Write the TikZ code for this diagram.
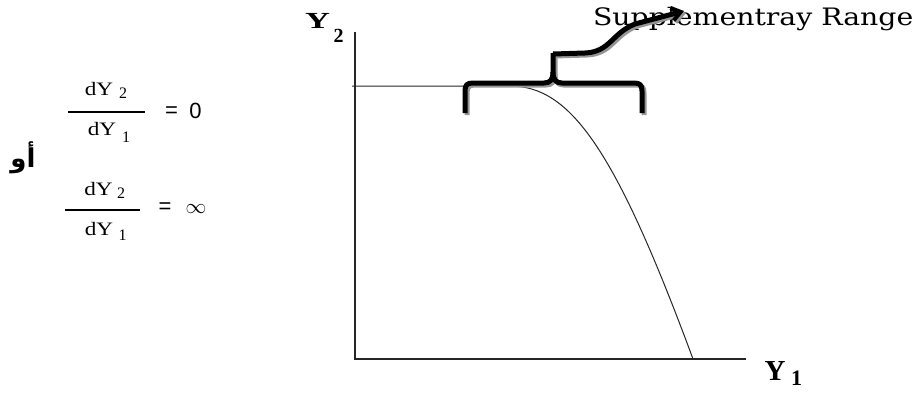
\documentclass[tikz,border=0pt]{standalone}
\usepackage{fontspec}
\setmainfont{Liberation Serif}
\newfontfamily\lblfont{DejaVu Serif}
\newfontfamily\sansf{Liberation Sans}
\newfontfamily\arabicfont[Script=Arabic]{DejaVu Sans}
\TeXXeTstate=1
\usetikzlibrary{arrows.meta}
\definecolor{shadowgray}{RGB}{150,150,150}
\tikzset{
  axisline/.style={line width=1.3pt, draw=black!85},
  curveline/.style={line width=1pt, draw=black!85},
  bracestroke/.style={line width=5pt, line cap=butt, line join=round},
  fracbar/.style={line width=2.2pt},
  fracfont/.style={font=\fontsize{19}{19}\selectfont, anchor=base},
  subfont/.style={font=\fontsize{16}{16}\selectfont, anchor=base},
  symfont/.style={font=\sansf\fontsize{22}{22}\selectfont},
}
\begin{document}
\begin{tikzpicture}[x=1pt,y=-1pt, every node/.style={inner sep=0pt, outer sep=0pt}]
\useasboundingbox (0,0) rectangle (919,394);

% axes
\coordinate (ytop) at (355,32);
\coordinate (orig) at (355,359);
\coordinate (xend) at (746,359);
\draw[axisline] (ytop) -- (orig) -- (xend);

% production possibility curve
\coordinate (hstart) at (352,86);
\coordinate (cstart) at (510,86);
\coordinate (cend) at (693,359);
\draw[curveline] (hstart) -- (cstart) .. controls (570,86) and (615,148) .. (cend);

% axis labels
\node[anchor=base, font=\bfseries\fontsize{23}{23}\selectfont] (y2) at (317.5,28) {\scalebox{1.5}[1]{Y}};
\node[anchor=base, font=\bfseries\fontsize{20}{20}\selectfont] (y2s) at (338.5,42) {2};
\node[anchor=base, font=\bfseries\fontsize{29}{29}\selectfont] (y1) at (775,380) {Y};
\node[anchor=base, font=\bfseries\fontsize{22}{22}\selectfont] (y1s) at (796.5,385) {1};

% label
\node[anchor=base west, font=\lblfont\fontsize{24}{24}\selectfont] (lbl) at (593,25) {\scalebox{1.18}[1]{Supplementray Range}};

% brace with shadow and arrow
\foreach \off/\col in {2/shadowgray, 0/black}{
  \begin{scope}[shift={(\off,\off)}]
    \draw[bracestroke, draw=\col] (465,113) -- (465,91) .. controls (465,85) and (467,83) .. (473,83)
      -- (544,83) .. controls (550,83) and (553,80) .. (553,72) -- (553,53);
    \draw[bracestroke, draw=\col] (642,113) -- (642,91) .. controls (642,85) and (640,83) .. (634,83)
      -- (562,83) .. controls (556,83) and (553,80) .. (553,72);
    \draw[line width=5pt, draw=\col, -{Straight Barb[length=9pt,width=13pt,line width=4pt]}]
      (553,54) -- (585,53) .. controls (610,52) and (612,33) .. (635,24) -- (684,11);
  \end{scope}
}

% Arabic word
\node[font=\arabicfont\bfseries\fontsize{26}{26}\selectfont] (aw) at (23,158) {\beginR أو\endR};

% fraction 1
\node[fracfont] (n1) at (99,95) {\scalebox{1.22}[1]{dY}};
\node[subfont] (n1s) at (123,98) {2};
\coordinate (b1l) at (68,112);
\coordinate (b1r) at (145,112);
\draw[fracbar] (b1l) -- (b1r);
\node[fracfont] (d1) at (102,135) {\scalebox{1.22}[1]{dY}};
\node[subfont] (d1s) at (126,142) {1};
\node[symfont] (eq1) at (171.5,112) {=};
\node[symfont, anchor=base] (zero) at (195.5,118) {0};

% fraction 2
\node[fracfont] (n2) at (98.5,195) {\scalebox{1.22}[1]{dY}};
\node[subfont] (n2s) at (121,198) {2};
\coordinate (b2l) at (65,210);
\coordinate (b2r) at (140,210);
\draw[fracbar] (b2l) -- (b2r);
\node[fracfont] (d2) at (99,235) {\scalebox{1.22}[1]{dY}};
\node[subfont] (d2s) at (122.5,240) {1};
\node[symfont] (eq2) at (165,208) {=};
\node[font=\fontsize{22}{22}\selectfont] (inf) at (196,209) {$\infty$};
\end{tikzpicture}
\end{document}
